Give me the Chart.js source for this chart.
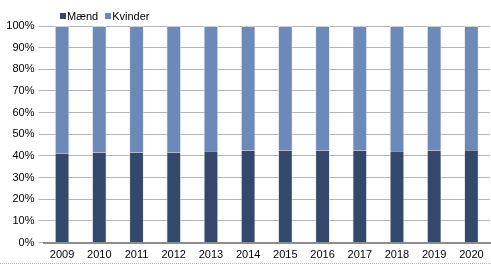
<!DOCTYPE html>
<html>
<head>
<meta charset="utf-8">
<script src="https://cdn.jsdelivr.net/npm/chart.js@4"></script>
<style>
  html, body { margin: 0; padding: 0; background: #fff; }
  #wrap { position: relative; width: 491px; height: 263px; border-bottom: 1px dotted #b8b8b8; }
  #legend { position: absolute; left: 60px; top: 10px; font: 11px "Liberation Sans", Arial, sans-serif; color: #000; display: flex; gap: 7px; }
  #legend span.item { display: flex; align-items: center; }
  #legend i { display: inline-block; width: 6px; height: 6px; margin-right: 1px; }
</style>
</head>
<body>
<div id="wrap">
  <canvas id="c" width="491" height="263"></canvas>
  <div id="legend"></div>
</div>
<script>
const categories = ["2009","2010","2011","2012","2013","2014","2015","2016","2017","2018","2019","2020"];
const seriesNames = ["Mænd", "Kvinder"];
const maendValues = [41.0, 41.6, 41.6, 41.6, 42.1, 42.5, 42.5, 42.5, 42.5, 42.1, 42.5, 42.6];
const kvinderValues = [59.0, 58.4, 58.4, 58.4, 57.9, 57.5, 57.5, 57.5, 57.5, 57.9, 57.5, 57.4];
const yTicks = [0, 10, 20, 30, 40, 50, 60, 70, 80, 90, 100];
const colors = ["#34486b", "#6c89b7"];

const legend = document.getElementById('legend');
seriesNames.forEach((n, i) => {
  const s = document.createElement('span');
  s.className = 'item';
  s.innerHTML = '<i style="background:' + colors[i] + '"></i>' + n;
  legend.appendChild(s);
});

Chart.defaults.font.family = '"Liberation Sans", Arial, sans-serif';
Chart.defaults.font.size = 11;
Chart.defaults.color = '#000';

new Chart(document.getElementById('c'), {
  type: 'bar',
  data: {
    labels: categories,
    datasets: [
      { label: seriesNames[0], data: maendValues, backgroundColor: colors[0], borderColor: 'rgba(220,228,240,0.6)', borderWidth: {left:1,right:1,top:0,bottom:0}, barPercentage: 0.4, categoryPercentage: 1 },
      { label: seriesNames[1], data: kvinderValues, backgroundColor: colors[1], borderColor: 'rgba(220,228,240,0.6)', borderWidth: {left:1,right:1,top:1,bottom:0}, barPercentage: 0.4, categoryPercentage: 1 }
    ]
  },
  options: {
    responsive: false,
    animation: false,
    layout: { padding: { top: 26, right: 1, left: 0, bottom: 0 } },
    plugins: { legend: { display: false }, tooltip: { enabled: false } },
    scales: {
      x: {
        stacked: true,
        grid: { display: false, drawTicks: false },
        border: { display: true, color: '#8c8c8c', width: 2 },
        ticks: { padding: 6, maxRotation: 0, autoSkip: false },
        afterFit: s => { s.height = 20.5; }
      },
      y: {
        stacked: true,
        min: 0, max: 100,
        afterBuildTicks: s => { s.ticks = yTicks.map(v => ({ value: v })); },
        ticks: { callback: v => v + '%', padding: 4 },
        grid: { color: '#b4b4b4', lineWidth: 1, tickLength: 5, drawTicks: true },
        border: { display: false },
        afterFit: s => { s.width = 43.5; }
      }
    }
  }
});
</script>
</body>
</html>
